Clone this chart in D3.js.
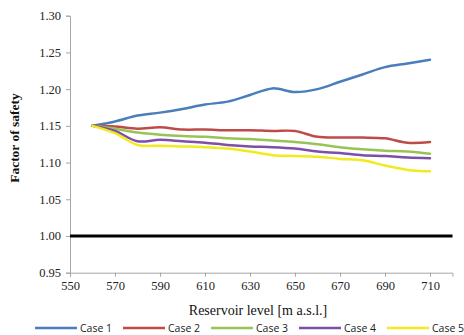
<!DOCTYPE html>
<html>
<head>
<meta charset="utf-8">
<script src="https://cdn.jsdelivr.net/npm/d3@7"></script>
<style>
  body { margin: 0; background: #fff; }
  svg { display: block; }
</style>
</head>
<body>
<svg id="chart"></svg>
<script>
const width = 464, height = 335;

// Reservoir levels (m a.s.l.)
const levels = [560, 570, 580, 590, 600, 610, 620, 630, 640, 650, 660, 670, 680, 690, 700, 710];

// Factor of safety for each case
const case1 = [1.150, 1.156, 1.164, 1.168, 1.173, 1.179, 1.183, 1.192, 1.201, 1.196, 1.200, 1.210, 1.220, 1.230, 1.235, 1.240];
const case2 = [1.150, 1.149, 1.146, 1.148, 1.145, 1.145, 1.144, 1.144, 1.143, 1.143, 1.135, 1.134, 1.134, 1.133, 1.127, 1.128];
const case3 = [1.150, 1.146, 1.141, 1.138, 1.136, 1.135, 1.133, 1.132, 1.130, 1.128, 1.125, 1.121, 1.118, 1.116, 1.115, 1.112];
const case4 = [1.150, 1.143, 1.129, 1.131, 1.129, 1.127, 1.124, 1.122, 1.121, 1.119, 1.115, 1.113, 1.110, 1.109, 1.107, 1.106];
const case5 = [1.150, 1.140, 1.124, 1.123, 1.122, 1.121, 1.119, 1.115, 1.110, 1.109, 1.108, 1.105, 1.103, 1.096, 1.090, 1.088];

const seriesNames = ["Case 1", "Case 2", "Case 3", "Case 4", "Case 5"];
const seriesValues = [case1, case2, case3, case4, case5];
const seriesColors = ["#4A7EBB", "#BE4B48", "#98C455", "#7D4FA8", "#F2EA1E"];

const xTicks = [550, 570, 590, 610, 630, 650, 670, 690, 710];
const yTicks = [0.95, 1.00, 1.05, 1.10, 1.15, 1.20, 1.25, 1.30];
const referenceLine = 1.00;

const margin = { top: 15.7, bottom: 62.3, left: 70, right: 11.5 };

const svg = d3.select("#chart")
    .attr("width", width)
    .attr("height", height)
    .style("font-family", "'Liberation Serif', 'Times New Roman', serif");

const xScale = d3.scaleLinear()
    .domain([550, 720])
    .range([margin.left, width - margin.right]);

const yScale = d3.scaleLinear()
    .domain([0.95, 1.30])
    .range([height - margin.bottom, margin.top]);

// Axes
const xAxis = svg.append("g")
    .attr("transform", `translate(0, ${yScale(0.95)})`)
    .call(d3.axisBottom(xScale).tickValues(xTicks).tickSize(4).tickPadding(4).tickFormat(d3.format("d")));

const yAxis = svg.append("g")
    .attr("transform", `translate(${margin.left}, 0)`)
    .call(d3.axisLeft(yScale).tickValues(yTicks).tickSize(4).tickPadding(5).tickFormat(d3.format(".2f")));

[xAxis, yAxis].forEach(ax => {
    ax.select(".domain").attr("stroke", "#a6a6a6");
    ax.selectAll(".tick line").attr("stroke", "#a6a6a6");
    ax.selectAll(".tick text")
        .attr("fill", "#222")
        .style("font-size", "12.5px")
        .style("font-family", "'Liberation Serif', serif");
});

// Factor of safety = 1.00 line
svg.append("line")
    .attr("x1", xScale(550))
    .attr("x2", xScale(720))
    .attr("y1", yScale(referenceLine))
    .attr("y2", yScale(referenceLine))
    .attr("stroke", "#000")
    .attr("stroke-width", 3);

// Lines
const line = d3.line()
    .x((d, i) => xScale(levels[i]))
    .y(d => yScale(d))
    .curve(d3.curveCatmullRom.alpha(0.5));

svg.selectAll(".series")
    .data(seriesValues)
    .enter().append("path")
    .attr("class", "series")
    .attr("d", d => line(d))
    .attr("fill", "none")
    .attr("stroke", (d, i) => seriesColors[i])
    .attr("stroke-width", 2.5)
    .attr("stroke-linecap", "round");

// Axis labels
svg.append("text")
    .attr("x", 258)
    .attr("y", 315)
    .attr("text-anchor", "middle")
    .style("font-size", "14px")
    .attr("fill", "#111")
    .text("Reservoir level [m a.s.l.]");

svg.append("text")
    .attr("transform", "translate(19, 138) rotate(-90)")
    .attr("text-anchor", "middle")
    .style("font-size", "13.5px")
    .style("font-weight", "bold")
    .attr("fill", "#111")
    .text("Factor of safety");

// Legend
const legend = svg.selectAll(".legend")
    .data(seriesNames)
    .enter().append("g")
    .attr("class", "legend")
    .attr("transform", (d, i) => `translate(${35 + i * 88}, 328)`);

legend.append("line")
    .attr("x1", 0)
    .attr("x2", 42)
    .attr("y1", 0)
    .attr("y2", 0)
    .attr("stroke", (d, i) => seriesColors[i])
    .attr("stroke-width", 2.5);

legend.append("text")
    .attr("x", 45)
    .attr("y", 4)
    .style("font-family", "'Open Sans', 'Liberation Sans', sans-serif")
    .style("font-size", "10.5px")
    .attr("fill", "#222")
    .text(d => d);
</script>
</body>
</html>
